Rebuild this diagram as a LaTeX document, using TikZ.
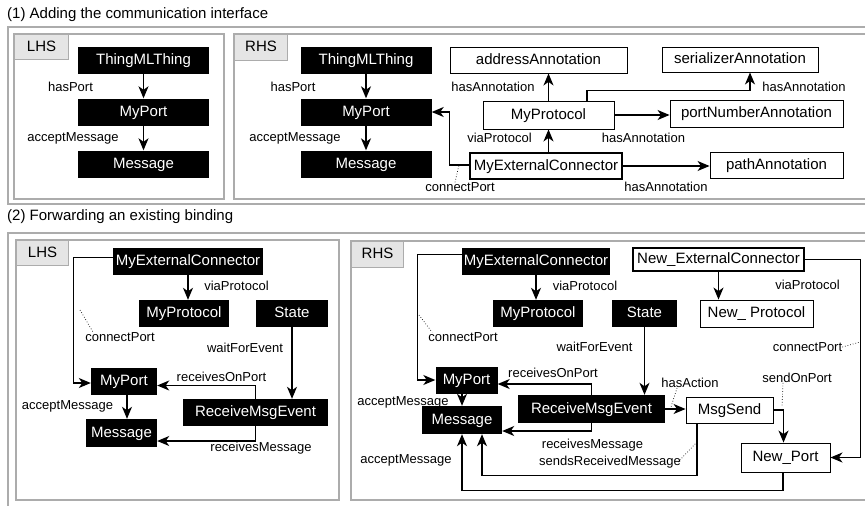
\documentclass[tikz,border=0pt]{standalone}
\usepackage{fontspec}
\setmainfont{Liberation Sans}
\usetikzlibrary{arrows, arrows.meta}
\tikzstyle{blackbox} = [rectangle, minimum height=27pt, inner sep=0pt, text height=11pt, text depth=3pt, text centered, fill=black, text=white, font=\fontsize{15}{18}\selectfont]
\tikzstyle{whitebox} = [rectangle, minimum height=27pt, inner sep=0pt, text height=11pt, text depth=3pt, text centered, draw=black, line width=0.9pt, fill=white, font=\fontsize{15}{18}\selectfont]
\tikzstyle{extbox} = [whitebox, line width=2.4pt]
\tikzstyle{lbl} = [inner sep=0pt, font=\fontsize{13}{15}\selectfont]
\tikzstyle{heading} = [inner sep=0pt, anchor=west, font=\fontsize{15}{18}\selectfont]
\tikzstyle{tag} = [rectangle, draw=gray!65, fill=gray!20, line width=1.1pt, anchor=north west, inner sep=0pt, text height=11pt, text depth=3pt, font=\fontsize{15}{18}\selectfont]
\tikzstyle{frame} = [draw=gray!65, line width=1.1pt]
\tikzstyle{arrow} = [line width=1.3pt,->,>={Stealth[length=12pt, width=10pt, inset=3.5pt]}]
\tikzstyle{dots} = [dotted, line width=0.7pt]

\begin{document}
\begin{tikzpicture}[x=1pt, y=-1pt, node distance=52pt]
		\useasboundingbox (0,0) rectangle (865,506);
		% (1) adding the interface
		\node (title1) [heading] at (7,15) {(1) Adding the communication interface};
		\draw [frame] (8,27) rectangle (872,204);
		\draw [frame] (14,34) rectangle (224,199);
		\draw [frame] (234,34) rectangle (872,199);
		\node (lhs1) [tag, minimum width=54pt, minimum height=25pt] at (14,34) {LHS};
		\node (rhs1) [tag, minimum width=53pt, minimum height=26pt] at (234,34) {RHS};
		
		\node (thing_l) [blackbox, minimum width=131pt] at (143.5,60) {ThingMLThing};
		\node (port_l) [blackbox, minimum width=131pt, below of=thing_l] {MyPort};
		\node (msg_l) [blackbox, minimum width=131pt, below of=port_l] {Message};
		\node (hp_l) [lbl] at (70.5,87) {hasPort};
		\node (am_l) [lbl] at (73,138) {acceptMessage};
		\draw [arrow] (thing_l) -- (port_l);
		\draw [arrow] (port_l) -- (msg_l);
		
		\node (thing_r) [blackbox, minimum width=131pt] at (366,60) {ThingMLThing};
		\node (port_r) [blackbox, minimum width=131pt, below of=thing_r] {MyPort};
		\node (msg_r) [blackbox, minimum width=131pt, below of=port_r] {Message};
		\node (hp_r) [lbl] at (293,87) {hasPort};
		\node (am_r) [lbl] at (295,138) {acceptMessage};
		\draw [arrow] (thing_r) -- (port_r);
		\draw [arrow] (port_r) -- (msg_r);
		
		\node (addr) [whitebox, minimum width=177pt, minimum height=26pt] at (538.5,60) {addressAnnotation};
		\node (ser) [whitebox, minimum width=156pt, minimum height=25pt] at (740,59.5) {serializerAnnotation};
		\node (prot) [whitebox, minimum width=131pt, minimum height=28pt] at (548.5,115) {MyProtocol};
		\node (pnum) [whitebox, minimum width=173pt] at (756.5,113.5) {portNumberAnnotation};
		\node (ext) [extbox, minimum width=152pt, minimum height=26pt] at (546,166) {MyExternalConnector};
		\node (path) [whitebox, minimum width=133pt, minimum height=26pt] at (776.5,165) {pathAnnotation};
		\node (ha_addr) [lbl] at (493,87) {hasAnnotation};
		\node (ha_ser) [lbl] at (804,87) {hasAnnotation};
		\node (vp1) [lbl] at (499.5,138) {viaProtocol};
		\node (ha_pnum) [lbl] at (643.5,138) {hasAnnotation};
		\node (cp1) [lbl] at (460,187) {connectPort};
		\node (ha_path) [lbl] at (666,187) {hasAnnotation};
		\coordinate (cp1_tip) at (459,165);
		
		\draw [arrow] (prot.north) -- (prot.north |- addr.south);
		\draw [arrow] ([xshift=38.5pt]prot.north) -- ++(0,-10) -| ([xshift=10pt]ser.south);
		\draw [arrow] (prot.east) -- (prot.east -| pnum.west);
		\draw [arrow] (ext.north -| prot.south) -- (prot.south);
		\draw [arrow] (ext.east) -- (ext.east -| path.west);
		\draw [arrow] ([yshift=1pt]ext.west) -- ++(-19,0) |- (port_r.east);
		\draw [dots] ([xshift=-5pt]cp1.north) -- (cp1_tip);
		
		% (2) forwarding a binding
		\node (title2) [heading] at (7,217) {(2) Forwarding an existing binding};
		\draw [frame] (8,233) rectangle (872,510);
		\draw [frame] (16,240) rectangle (339,500);
		\draw [frame] (351,241) rectangle (872,500);
		\node (lhs2) [tag, minimum width=52pt, minimum height=25pt] at (16,240) {LHS};
		\node (rhs2) [tag, minimum width=52pt, minimum height=26pt] at (351,241) {RHS};
		
		\node (ext_l) [blackbox, minimum width=150pt] at (188,261.5) {MyExternalConnector};
		\node (prot_l) [blackbox, minimum width=90pt] at (184,313.5) {MyProtocol};
		\node (state_l) [blackbox, minimum width=72pt] at (292,313.5) {State};
		\node (mport_l) [blackbox, minimum width=66pt] at (124,381.5) {MyPort};
		\node (rme_l) [blackbox, minimum width=145pt] at (255.5,412.5) {ReceiveMsgEvent};
		\node (mmsg_l) [blackbox, minimum width=71pt, minimum height=28pt] at (121.5,433) {Message};
		\node (vp_l) [lbl] at (236.5,286) {viaProtocol};
		\node (cp_l) [lbl] at (120,337) {connectPort};
		\node (wfe_l) [lbl] at (245,348) {waitForEvent};
		\node (rop_l) [lbl] at (221.5,377) {receivesOnPort};
		\node (am2_l) [lbl] at (67.5,406) {acceptMessage};
		\node (rm_l) [lbl] at (261,448) {receivesMessage};
		\coordinate (cp_l_tip) at (80,310);
		
		\draw [arrow] (ext_l.south) -- (ext_l.south |- prot_l.north);
		\draw [arrow] ([yshift=4pt]ext_l.west) -- ++(-39,0) |- ([yshift=-1.5pt]mport_l.west);
		\draw [dots] (cp_l_tip) -- ([xshift=8pt]cp_l.north west);
		\draw [arrow] (state_l.south) -- (state_l.south |- rme_l.north);
		\draw [arrow] (rme_l.north) |- ([yshift=-4pt]mport_l.east);
		\draw [arrow] (rme_l.south) |- ([yshift=-8pt]mmsg_l.east);
		\draw [arrow] (mport_l.south -| 127,0) -- (mmsg_l.north -| 127,0);
		
		\node (ext_r) [blackbox, minimum width=148pt] at (536,261.5) {MyExternalConnector};
		\node (prot_r) [blackbox, minimum width=90pt] at (538,313.5) {MyProtocol};
		\node (state_r) [blackbox, minimum width=65pt] at (644.5,313.5) {State};
		\node (mport_r) [blackbox, minimum width=62pt] at (466.5,380) {MyPort};
		\node (rme_r) [blackbox, minimum width=147pt, minimum height=28pt] at (591.5,409) {ReceiveMsgEvent};
		\node (mmsg_r) [blackbox, minimum width=80pt, minimum height=28pt] at (462,420) {Message};
		\node (next) [extbox, minimum width=171pt, minimum height=23pt] at (718.5,259.5) {New\_ExternalConnector};
		\node (nprot) [whitebox, minimum width=113pt] at (756.5,313.5) {New\_ Protocol};
		\node (send) [whitebox, minimum width=87pt, minimum height=26pt] at (729.5,410) {MsgSend};
		\node (nport) [whitebox, minimum width=89pt, minimum height=29pt] at (785.5,457.5) {New\_Port};
		
		\node (vp_r) [lbl] at (585,286) {viaProtocol};
		\node (cp_r) [lbl] at (463,337) {connectPort};
		\node (wfe_r) [lbl] at (594.5,347) {waitForEvent};
		\node (rop_r) [lbl] at (553,373) {receivesOnPort};
		\node (am2_r) [lbl] at (403,402) {acceptMessage};
		\node (rm_r) [lbl] at (592.5,445) {receivesMessage};
		\node (srm) [lbl] at (610,462) {sendsReceivedMessage};
		\node (am3_r) [lbl] at (406,460) {acceptMessage};
		\node (vp_n) [lbl] at (807.5,285) {viaProtocol};
		\node (cp_n) [lbl] at (807.5,347) {connectPort};
		\node (ha_send) [lbl] at (690,383) {hasAction};
		\node (sop) [lbl] at (797,378) {sendOnPort};
		\coordinate (cp_r_tip) at (419,315);
		\coordinate (cp_n_tip) at (860,342);
		\coordinate (ha_tip) at (671,407);
		\coordinate (sop_tip) at (782,407);
		\coordinate (srm_tip) at (697,442);
		
		\draw [arrow] (ext_r.south) -- (ext_r.south |- prot_r.north);
		\draw [arrow] ([yshift=7pt]ext_r.west) -- ++(-44,0) |- (mport_r.west);
		\draw [dots] (cp_r_tip) -- ([xshift=4pt]cp_r.north west);
		\draw [arrow] (state_r.south) -- (state_r.south |- rme_r.north);
		\draw [arrow] (rme_r.north) |- ([yshift=-4pt]mport_r.east);
		\draw [arrow] (rme_r.south) |- ([yshift=-11pt]mmsg_r.east);
		\draw [arrow] (mport_r.south -| mmsg_r.north) -- (mmsg_r.north);
		\draw [arrow] (rme_r.east) -- (rme_r.east -| send.west);
		\draw [dots] ([xshift=-13pt]ha_send.south) -- (ha_tip);
		\draw [arrow] (send.east) -| ([xshift=-2pt]nport.north);
		\draw [dots] ([xshift=-14pt]sop.south) -- (sop_tip);
		\draw [arrow] (next.south) -- (next.south |- nprot.north);
		\draw [arrow] (next.east) -- ++(55,0) |- (nport.east);
		\draw [dots] (cp_n.east) -- (cp_n_tip);
		\draw [arrow] ([xshift=-32.5pt]send.south) -- ++(0,52) -| ([xshift=20pt]mmsg_r.south);
		\draw [dots] ([xshift=-3pt]srm.east) -- (srm_tip);
		\draw [arrow] ([xshift=-2.5pt]nport.south) -- ++(0,18) -| (mmsg_r.south);
		\end{tikzpicture}
\end{document}
